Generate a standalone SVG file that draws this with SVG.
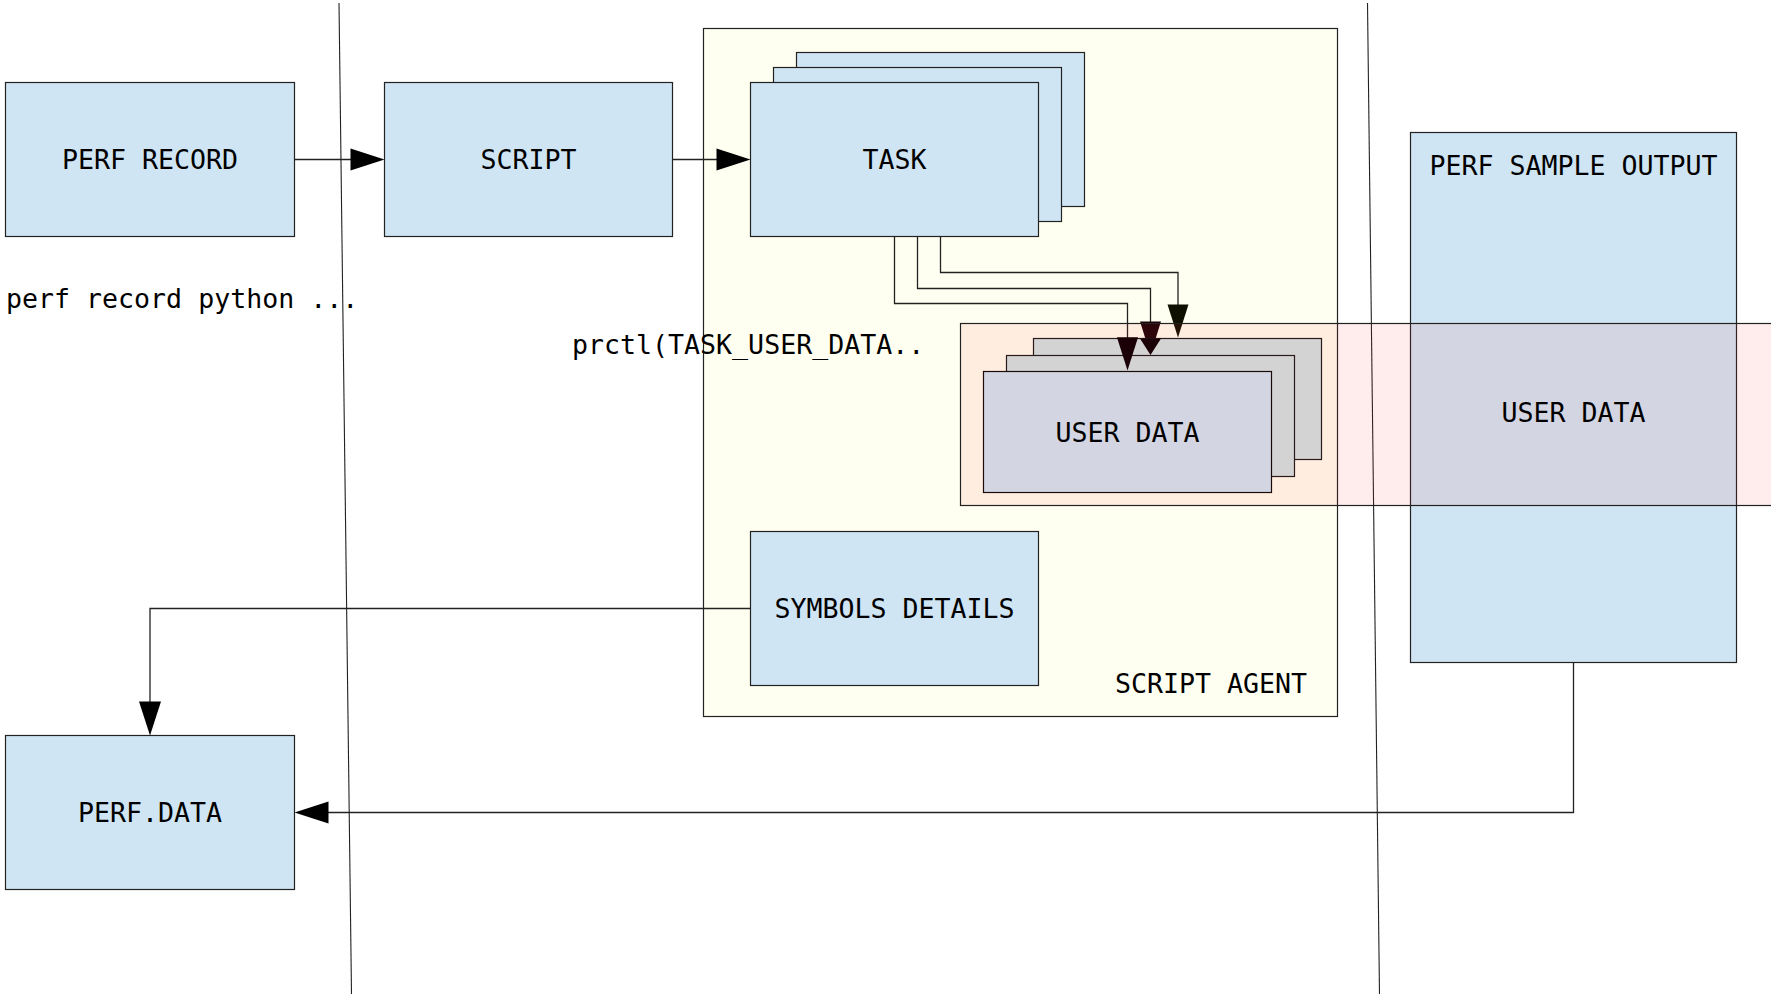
<svg xmlns="http://www.w3.org/2000/svg" width="1771" height="995" viewBox="0 0 1771 995">
<defs>
<style>
.box{fill:#cfe5f3;stroke:#222;stroke-width:1.2}
.grey{fill:#d3d3d3;stroke:#2a1a1a;stroke-width:1.2}
.ud{fill:#d3d6e2;stroke:#1a0a0a;stroke-width:1.2}
.cont{fill:#fffff1;stroke:#222;stroke-width:1.2}
.lbl{font-family:"DejaVu Sans Mono","Liberation Mono",monospace;font-size:26.6px;fill:#000}
.mid{text-anchor:middle}
.wire{fill:none;stroke:#222;stroke-width:1.3}
.sep{fill:none;stroke:#222;stroke-width:1.1}
</style>
</defs>
<rect width="1771" height="995" fill="#ffffff"/>

<g id="script-agent">
<rect class="cont" x="703.5" y="28.5" width="634" height="688"/>
<text class="lbl" x="1115" y="693">SCRIPT AGENT</text>
</g>

<g id="perf-sample-output">
<rect class="box" x="1410.5" y="132.5" width="326" height="530"/>
<text class="lbl mid" x="1573.5" y="174.5">PERF SAMPLE OUTPUT</text>
</g>

<g id="separators">
<line class="sep" x1="339" y1="3" x2="351.5" y2="994"/>
<line class="sep" x1="1367.5" y1="3" x2="1379.5" y2="994"/>
</g>

<g id="perf-record">
<rect class="box" x="5.5" y="82.5" width="289" height="154"/>
<text class="lbl mid" x="150" y="169.3">PERF RECORD</text>
</g>
<text class="lbl" x="6" y="308.3">perf record python ...</text>

<g id="script">
<rect class="box" x="384.5" y="82.5" width="288" height="154"/>
<text class="lbl mid" x="528.5" y="169.3">SCRIPT</text>
</g>

<g id="task">
<rect class="box" x="796.5" y="52.5" width="288" height="154"/>
<rect class="box" x="773.5" y="67.5" width="288" height="154"/>
<rect class="box" x="750.5" y="82.5" width="288" height="154"/>
<text class="lbl mid" x="894.5" y="169.3">TASK</text>
</g>

<text class="lbl" x="572" y="354.3">prctl(TASK_USER_DATA..</text>

<g id="symbols-details">
<rect class="box" x="750.5" y="531.5" width="288" height="154"/>
<text class="lbl mid" x="894.5" y="618.3">SYMBOLS DETAILS</text>
</g>

<g id="perf-data">
<rect class="box" x="5.5" y="735.5" width="289" height="154"/>
<text class="lbl mid" x="150" y="821.8">PERF.DATA</text>
</g>

<g id="connectors">
<path class="wire" d="M294.5 159.5H351"/>
<polygon points="350.5,148.5 384.5,159.5 350.5,170.5" fill="#000"/>
<path class="wire" d="M672.5 159.5H717"/>
<polygon points="716.5,148.5 750.5,159.5 716.5,170.5" fill="#000"/>
<path class="wire" d="M940.5 236.5V272.5H1178V305"/>
<polygon points="1167.5,304.5 1188.5,304.5 1178,337.5" fill="#0f0f00"/>
<path class="wire" d="M917.5 236.5V288.5H1150.5V322"/>
<polygon points="1140,321.5 1161,321.5 1150.5,355" fill="#1a0006"/>
<path class="wire" d="M894.5 236.5V303.5H1127.5V338"/>
<polygon points="1117,337.5 1138,337.5 1127.5,370.5" fill="#1a0006"/>
<path class="wire" d="M750.5 608.5H150V702"/>
<polygon points="139,701.5 161,701.5 150,735.5" fill="#000"/>
<path class="wire" d="M1573.5 662.5V812.5H328"/>
<polygon points="328.5,801.5 328.5,823.5 294.5,812.5" fill="#000"/>
</g>

<g id="user-data-band">
<rect x="960.5" y="323.5" width="820" height="182" fill="#ff2a2b" fill-opacity="0.085" stroke="#222" stroke-width="1.2"/>
<text class="lbl mid" x="1573.5" y="422.3" fill="#1a0505">USER DATA</text>
</g>

<g id="user-data">
<rect class="grey" x="1033.5" y="338.5" width="288" height="121"/>
<rect class="grey" x="1006.5" y="355.5" width="288" height="121"/>
<rect class="ud" x="983.5" y="371.5" width="288" height="121"/>
<text class="lbl mid" x="1127.5" y="441.8" fill="#1a0505">USER DATA</text>
</g>
<g id="arrow-tips">
<polygon points="1117,337.5 1138,337.5 1127.5,370.5" fill="#1a0006"/>
<polygon points="1140,338.5 1161,338.5 1150.5,355" fill="#1a0006"/>
</g>
</svg>
